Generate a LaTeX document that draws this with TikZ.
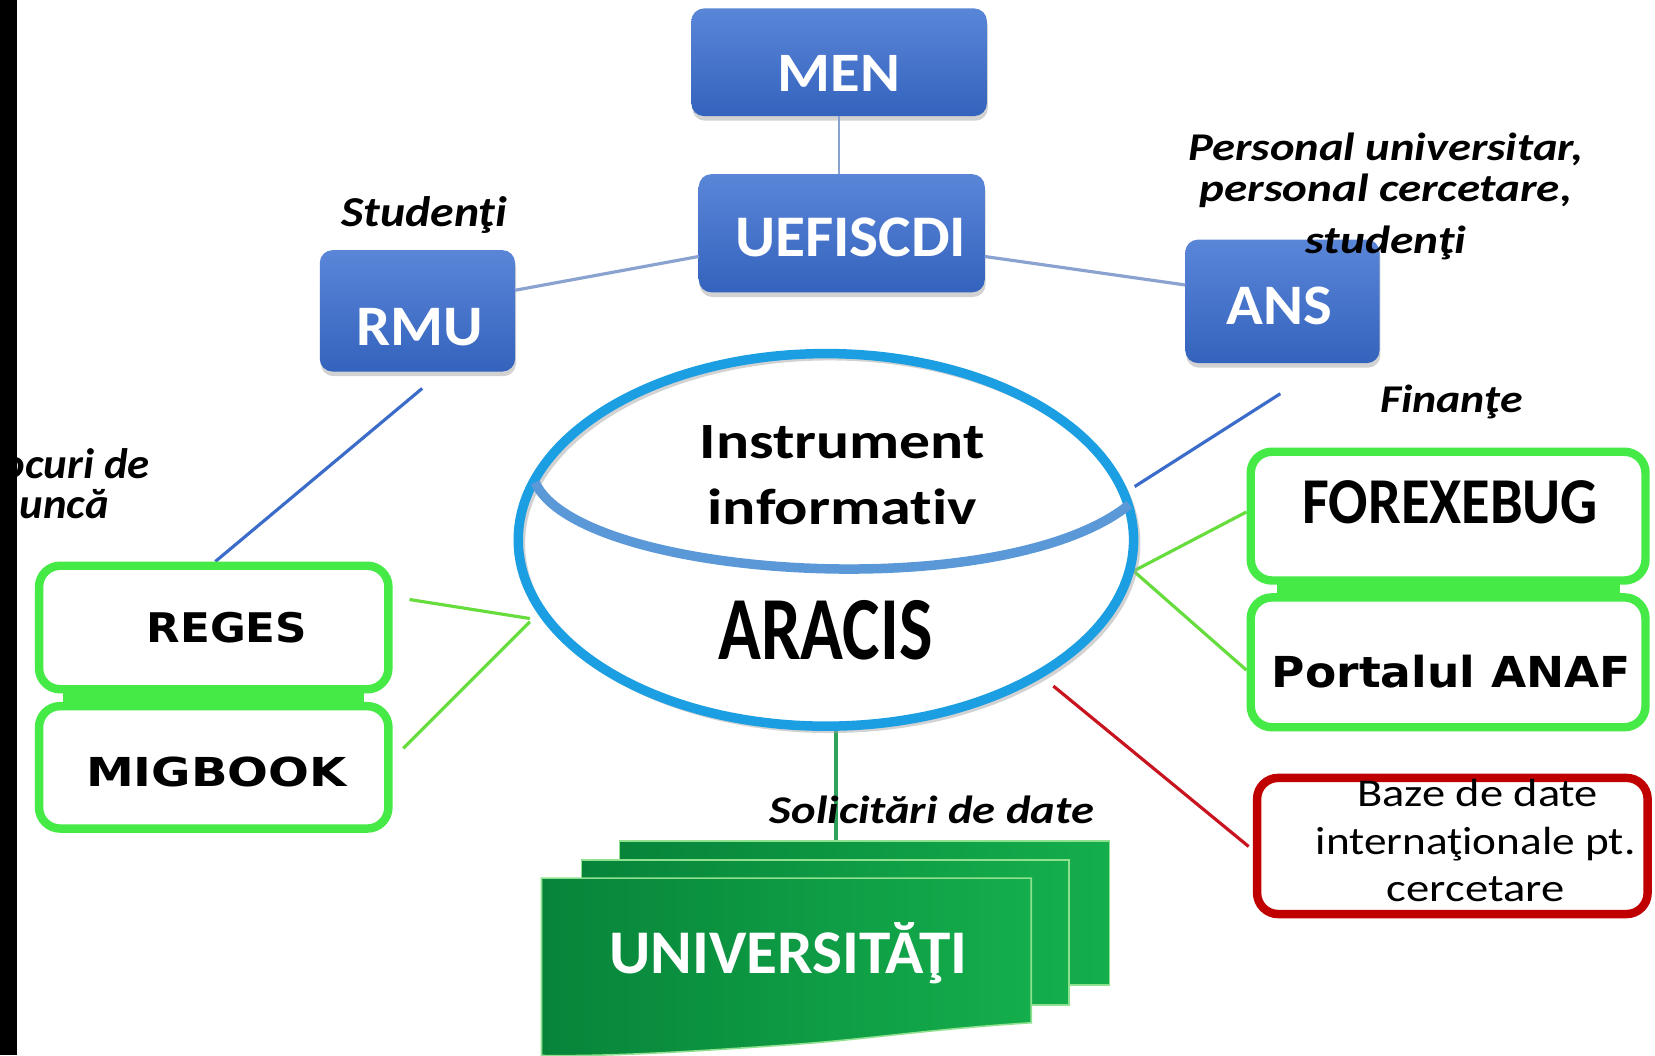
\documentclass[tikz,border=0pt]{standalone}
\usepackage{fontspec}
\usepackage{graphicx}
\setmainfont{Carlito}[Ligatures=NoCommon]
\newfontfamily\osans{DejaVu Sans}
\usetikzlibrary{shapes.geometric,shadows}
\newdimen\px \px=0.02cm
\newcommand\fitw[2]{\resizebox{#1\px}{\height}{#2}}
\newcommand\fz[1]{\fontsize{#1}{#1}\selectfont}
\definecolor{bluetop}{HTML}{5A86D8}
\definecolor{bluebot}{HTML}{3463BD}
\definecolor{ellblue}{HTML}{1B9FE2}
\definecolor{arcblue}{HTML}{5B98D8}
\definecolor{boxgreen}{HTML}{46EA46}
\definecolor{boxred}{HTML}{C00000}
\definecolor{linkgray}{HTML}{8AA2CF}
\definecolor{linkblue}{HTML}{3B6CC9}
\definecolor{linkgreen}{HTML}{66DD3C}
\definecolor{linkred}{HTML}{C8141E}
\definecolor{unigreen}{HTML}{2FA25C}
\definecolor{sheetdark}{HTML}{07843A}
\definecolor{sheetlight}{HTML}{14AE4C}
\definecolor{sheetedge}{HTML}{8FE08F}
\begin{document}
\begin{tikzpicture}[x=0.02cm,y=-0.02cm,
  lbl/.style={anchor=base,inner sep=0pt,outer sep=0pt},
  bluebox/.style={rectangle,rounded corners=12\px,top color=bluetop,bottom color=bluebot,draw=none,inner sep=0pt,
    drop shadow={opacity=0.35,shadow xshift=0.5pt,shadow yshift=-2.5pt}},
  greenbox/.style={rectangle,rounded corners=20\px,draw=boxgreen,line width=8\px,fill=white,inner sep=0pt},
  redbox/.style={greenbox,draw=boxred},
  congray/.style={line width=3\px,draw=linkgray},
  conblue/.style={line width=3\px,draw=linkblue},
  congreen/.style={line width=3\px,draw=linkgreen},
  conred/.style={line width=3\px,draw=linkred},
  conuni/.style={line width=3\px,draw=unigreen},
  sheet/.style={left color=sheetdark,right color=sheetlight,draw=sheetedge,line width=1.5\px},
  bluetext/.style={lbl,text=white,font=\fz{31}\bfseries},
  italbl/.style={lbl,font=\fz{21.2}\bfseries\itshape}]
\useasboundingbox (0,0) rectangle (1568,1000);
\fill[white] (0,0) rectangle (1568,1000);

% ---- coordinates for connector ends
\coordinate (cu1) at (662,243); \coordinate (cr1) at (488,275);
\coordinate (cu2) at (933,243); \coordinate (ca1) at (1123,270);
\coordinate (cr2) at (400,368); \coordinate (cg1) at (204,532);
\coordinate (ca2) at (1213,373); \coordinate (ce1) at (1075,461);
\coordinate (cg2) at (388,568); \coordinate (ce2) at (502,586);
\coordinate (cg3) at (382,709); \coordinate (ce3) at (502,589);
\coordinate (ce4) at (1074,541); \coordinate (cf1) at (1181,485);
\coordinate (cf2) at (1181,635);
\coordinate (ce5) at (998,650); \coordinate (cb1) at (1183,802);
\coordinate (ce6) at (792,692); \coordinate (cs1) at (792,797);

% ---- blue boxes
\node[bluebox,minimum width=280\px,minimum height=102\px] (men) at (795,59) {};
\node[bluebox,minimum width=271\px,minimum height=112\px] (uef) at (797.5,221) {};
\node[bluebox,minimum width=185\px,minimum height=115\px] (rmu) at (395.5,294.5) {};
\node[bluebox,minimum width=184\px,minimum height=117\px] (ans) at (1215,285.5) {};

% ---- connectors
\draw[line width=2\px,draw=linkgray] (men.south) -- (men.south |- uef.north);
\draw[congray] (cu1) -- (cr1);
\draw[congray] (cu2) -- (ca1);
\draw[conblue] (cr2) -- (cg1);
\draw[conblue] (ca2) -- (ce1);
\draw[congreen] (cg2) -- (ce2);
\draw[congreen] (cg3) -- (ce3);
\draw[congreen] (ce4) -- (cf1);
\draw[congreen] (ce4) -- (cf2);
\draw[conred] (ce5) -- (cb1);
\draw[conuni] (ce6) -- (cs1);

% ---- green / red boxes
\fill[boxgreen] (60,650) rectangle (345,672);
\node[greenbox,minimum width=331\px,minimum height=117\px] (reg) at (202.5,594.5) {};
\node[greenbox,minimum width=331\px,minimum height=116\px] (mig) at (202.5,727) {};
\fill[boxgreen] (1210,545) rectangle (1535,571);
\node[greenbox,minimum width=374\px,minimum height=122\px] (for) at (1372,489) {};
\node[greenbox,minimum width=374\px,minimum height=123\px] (anaf) at (1372,627.5) {};
\node[redbox,minimum width=370\px,minimum height=129\px] (baz) at (1376,801.5) {};

% ---- ellipse
\node[draw=black!35,opacity=0.5,line width=6\px,ellipse,minimum width=583\px,minimum height=353\px,inner sep=0pt] (ellsh) at (786,515) {};
\node[draw=ellblue,line width=9\px,ellipse,minimum width=583\px,minimum height=353\px,inner sep=0pt] (ell) at (782.5,511.5) {};
\coordinate (inl) at (507,457); \coordinate (inr) at (1070,478);
\draw[arcblue,line width=9\px] (inl) .. controls (548,548) and (950,575) .. (inr);

% ---- stack of sheets
\path[sheet] (587,797) rectangle (1051,933);
\path[sheet] (551,815) rectangle (1013,952);
\path[sheet] (513,832) -- (977,832) -- (977,969)
  .. controls (880,975) and (820,985) .. (745,990)
  .. controls (660,996) and (580,1001) .. (513,1000) -- cycle;

% ---- texts
\node[bluetext,font=\fz{30}\bfseries] (tmen) at (795,87) {\fitw{116}{MEN}};
\node[bluetext,font=\fz{31.8}\bfseries] (tuef) at (806,243) {\fitw{219}{UEFISCDI}};
\node[bluetext,font=\fz{30.9}\bfseries] (trmu) at (398,327) {\fitw{120}{RMU}};
\node[bluetext,font=\fz{30.9}\bfseries] (tans) at (1212,307) {\fitw{100}{ANS}};

\node[italbl,font=\fz{23}\bfseries\itshape] (tstud) at (402,215) {\fitw{157}{Studenţi}};
\node[italbl] (tpers1) at (1313,152) {\fitw{374}{Personal universitar,}};
\node[italbl] (tpers2) at (1313,191) {\fitw{353}{personal cercetare,}};
\node[italbl] (tpers3) at (1313,240) {\fitw{152}{studenţi}};
\node[italbl] (tfin) at (1375,391) {\fitw{135}{Finanţe}};
\node[italbl,font=\fz{23}\bfseries\itshape,anchor=base east] (tloc1) at (142,453) {\scalebox{1.05}[1]{Locuri de}};
\node[italbl,font=\fz{23}\bfseries\itshape,anchor=base east] (tloc2) at (103,491) {\scalebox{1.05}[1]{muncă}};
\node[italbl] (tsol) at (883,780) {\fitw{307}{Solicitări de date}};

\node[lbl,font=\fz{27.4}\bfseries] (tinst) at (798,434) {\fitw{270}{Instrument}};
\node[lbl,font=\fz{27.4}\bfseries] (tinf) at (798,497) {\fitw{255}{informativ}};
\node[lbl,font=\fz{48.6}\bfseries] (tara) at (782,625) {\fitw{203}{ARACIS}};

\node[lbl,font=\osans\fz{22}\bfseries] (treg) at (215,609) {\fitw{152}{REGES}};
\node[lbl,font=\osans\fz{21.5}\bfseries] (tmig) at (205,745) {\fitw{247}{MIGBOOK}};
\node[lbl,font=\fz{35.3}\bfseries] (tfor) at (1374,496) {\fitw{280}{FOREXEBUG}};
\node[lbl,font=\osans\fz{23}\bfseries] (tanaf) at (1375,651) {\fitw{340}{Portalul ANAF}};

\node[lbl,font=\fz{21.2}] (tbaz1) at (1400,764) {\fitw{228}{Baze de date}};
\node[lbl,font=\fz{21.2}] (tbaz2) at (1398,810) {\fitw{303}{internaţionale pt.}};
\node[lbl,font=\fz{21.2}] (tbaz3) at (1398,854) {\fitw{168}{cercetare}};

\node[lbl,text=white,font=\fz{33.5}\bfseries] (tuni) at (747,922) {\fitw{339}{UNIVERSITĂŢI}};

% ---- black strip on the left
\fill[black] (0,0) rectangle (16,1000);
\end{tikzpicture}
\end{document}
